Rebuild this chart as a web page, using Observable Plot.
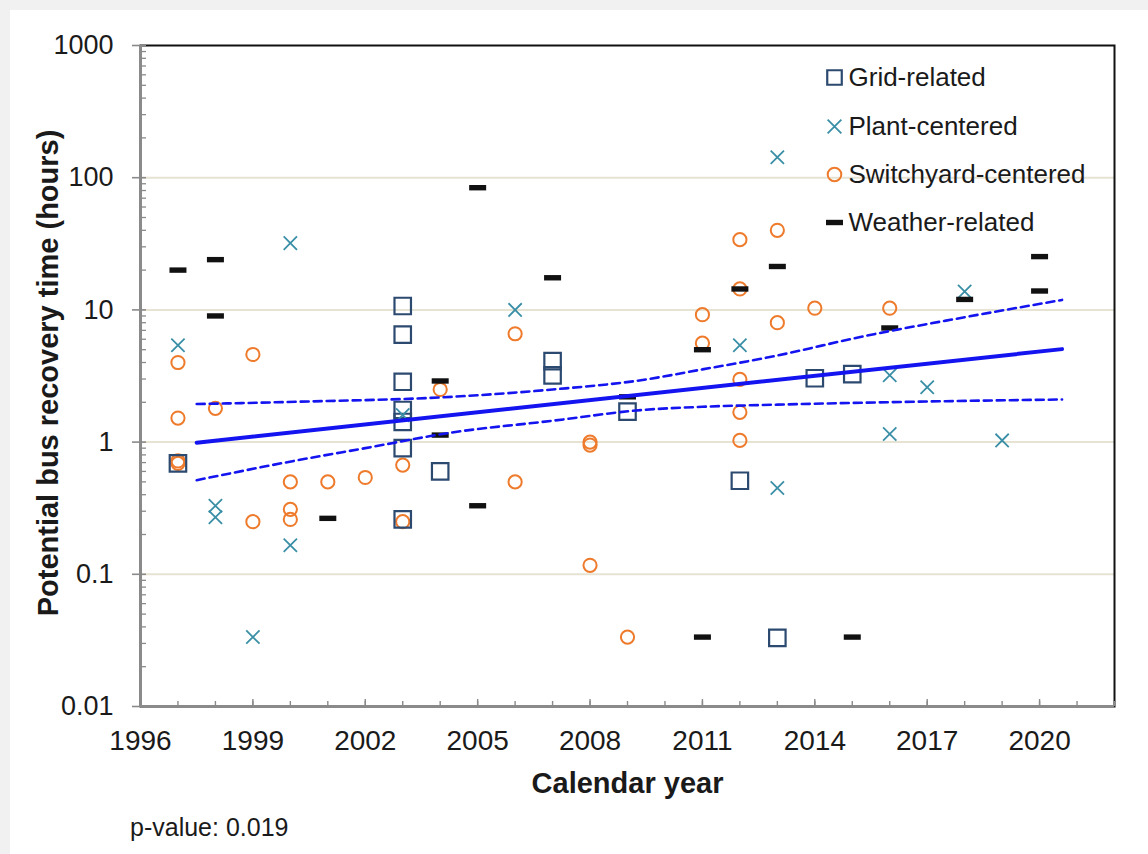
<!DOCTYPE html>
<html>
<head>
<meta charset="utf-8">
<script src="https://cdn.jsdelivr.net/npm/d3@7"></script>
<script src="https://cdn.jsdelivr.net/npm/@observablehq/plot@0.6"></script>
<style>
  html, body { margin: 0; padding: 0; background: #f1f1f1; }
  #panel { position: absolute; left: 10px; top: 10px; width: 1138px; height: 844px; background: #ffffff; }
  #chart { position: absolute; left: 0; top: 0; }
  #caption { position: absolute; left: 120px; top: 803px; font: 25px "Liberation Sans", Arial, sans-serif; color: #1a1a1a; }
</style>
</head>
<body>
<div id="panel"><div id="chart"></div><div id="caption">p-value: 0.019</div></div>
<script>
// ---------------- data ----------------
const gridYear  = [1997, 2003, 2003, 2003, 2003, 2003, 2003, 2003, 2004, 2007, 2007, 2009, 2012, 2013, 2014, 2015];
const gridHours = [0.69, 10.7, 6.5, 2.86, 1.75, 1.42, 0.9, 0.26, 0.6, 4.1, 3.2, 1.7, 0.51, 0.033, 3.04, 3.27];

const plantYear  = [1997, 1998, 1998, 1999, 2000, 2000, 2003, 2006, 2012, 2013, 2013, 2016, 2016, 2017, 2018, 2019];
const plantHours = [5.4, 0.33, 0.27, 0.0335, 32, 0.166, 1.6, 10, 5.4, 143, 0.45, 3.2, 1.15, 2.6, 13.8, 1.03];

const switchYear  = [1997, 1997, 1997, 1997, 1998, 1999, 1999, 2000, 2000, 2000, 2001, 2002, 2003, 2003, 2004, 2006, 2006, 2008, 2008, 2008, 2009, 2011, 2011, 2012, 2012, 2012, 2012, 2012, 2013, 2013, 2014, 2016];
const switchHours = [4.0, 1.52, 0.72, 0.69, 1.8, 4.6, 0.25, 0.5, 0.31, 0.26, 0.5, 0.54, 0.67, 0.25, 2.5, 6.6, 0.5, 1.0, 0.95, 0.117, 0.0335, 9.2, 5.6, 34, 14.4, 2.98, 1.68, 1.03, 40, 8.0, 10.3, 10.3];

const weatherYear  = [1997, 1998, 1998, 2001, 2004, 2004, 2005, 2005, 2007, 2009, 2011, 2011, 2012, 2013, 2015, 2016, 2018, 2020, 2020];
const weatherHours = [20, 24, 9, 0.265, 2.9, 1.13, 84, 0.33, 17.5, 2.2, 5.0, 0.0335, 14.4, 21.3, 0.0335, 7.3, 12, 25.3, 13.9];

// regression line and its confidence band
const fitYear  = [1997.5, 2020.6];
const fitHours = [0.99, 5.05];
const upperYear  = [1997.5, 2000.2, 2004.3, 2007, 2009.4, 2011, 2012.8, 2015.4, 2018, 2020.6];
const upperHours = [1.94, 2.02, 2.2, 2.5, 2.95, 3.55, 4.4, 6.4, 8.8, 11.9];
const lowerYear  = [1997.5, 2000.2, 2002, 2004.3, 2007, 2009.4, 2011, 2013, 2015.4, 2018, 2020.6];
const lowerHours = [0.515, 0.73, 0.9, 1.18, 1.45, 1.75, 1.85, 1.92, 1.99, 2.05, 2.1];

// axes
const xLabelYears = [1996, 1999, 2002, 2005, 2008, 2011, 2014, 2017, 2020];
const yTicks = [0.01, 0.1, 1, 10, 100, 1000];
const yTickLabels = ["0.01", "0.1", "1", "10", "100", "1000"];
const gridLines = [0.1, 1, 10, 100];
const legendLabels = ["Grid-related", "Plant-centered", "Switchyard-centered", "Weather-related"];
const xTitle = "Calendar year";
const yTitle = "Potential bus recovery time (hours)";

// ---------------- build tables ----------------
const zip = (xs, ys) => xs.map((x, i) => ({year: x, hours: ys[i]}));
const grid = zip(gridYear, gridHours);
const plant = zip(plantYear, plantHours);
const sw = zip(switchYear, switchHours);
const weather = zip(weatherYear, weatherHours);
const fit = zip(fitYear, fitHours);
const upper = zip(upperYear, upperHours);
const lower = zip(lowerYear, lowerHours);

const allYears = d3.range(1996, 2023);
const minorTicks = [];
for (let e = -2; e < 3; e++) for (let m = 2; m <= 9; m++) minorTicks.push(m * Math.pow(10, e));

// dash symbol for weather-related events
const dashSymbol = {
  draw(ctx) {
    const w = 8.5, h = 2.7;
    ctx.moveTo(-w, -h); ctx.lineTo(w, -h); ctx.lineTo(w, h); ctx.lineTo(-w, h); ctx.closePath();
  }
};

const C = {grid: "#2c4a70", plant: "#3a8fa7", sw: "#ee7b2c", weather: "#111111", fit: "#1414f0", axis: "#8a8a8a", gridline: "#e6e3d3"};
const FONT = "'Liberation Sans', Arial, Helvetica, sans-serif";

const legendDy = [32, 81, 129, 177];
const legendSymbols = [
  {symbol: "square", r: 8.2, stroke: C.grid, strokeWidth: 2.2, fill: "none"},
  {symbol: "times", r: 6.3, stroke: C.plant, strokeWidth: 1.8, fill: "none"},
  {symbol: "circle", r: 6.8, stroke: C.sw, strokeWidth: 2, fill: "none"},
  {symbol: dashSymbol, r: 5, stroke: "none", fill: C.weather}
];
const legendMarks = legendLabels.flatMap((lab, i) => [
  Plot.dot([lab], {frameAnchor: "top-left", dx: 694, dy: legendDy[i], ...legendSymbols[i]}),
  Plot.text([lab], {frameAnchor: "top-left", dx: 708, dy: legendDy[i], textAnchor: "start", lineAnchor: "middle", fontSize: 26, fill: "#1a1a1a"})
]);

const chart = Plot.plot({
  width: 1138,
  height: 800,
  marginLeft: 130,
  marginRight: 34,
  marginTop: 35,
  marginBottom: 104,
  style: {fontFamily: FONT, fontSize: "26px", background: "#ffffff", color: "#1a1a1a", overflow: "visible"},
  x: {domain: [1996, 2022], axis: null},
  y: {type: "log", domain: [0.01, 1000], axis: null},
  marks: [
    Plot.ruleY(gridLines, {stroke: C.gridline, strokeWidth: 2}),
    Plot.frame({stroke: "#111", strokeWidth: 2}),
    Plot.ruleX([1996], {stroke: C.axis, strokeWidth: 3}),
    Plot.ruleY([0.01], {stroke: C.axis, strokeWidth: 3}),
    // y ticks (major crossing the axis, minor inside)
    Plot.axisY({ticks: yTicks, tickSize: 14, dx: 6, tickFormat: () => "", label: null, stroke: C.axis, strokeWidth: 1.6}),
    Plot.axisY({ticks: minorTicks, tickSize: 6, dx: 6, tickFormat: () => "", label: null, stroke: C.axis, strokeWidth: 1.3}),
    Plot.axisY({ticks: yTicks, tickSize: 0, tickPadding: 27, tickFormat: d => yTickLabels[yTicks.indexOf(d)], label: null, fontSize: 27, fill: "#1a1a1a"}),
    // x ticks pointing inwards
    Plot.axisX({ticks: allYears, tickSize: 5, dy: -5, tickFormat: () => "", label: null, stroke: C.axis, strokeWidth: 1.4}),
    Plot.axisX({ticks: xLabelYears, tickSize: 7, dy: -7, tickFormat: () => "", label: null, stroke: C.axis, strokeWidth: 1.4}),
    Plot.axisX({ticks: xLabelYears, tickSize: 0, tickPadding: 24, tickFormat: d => String(d), label: null, fontSize: 28, fill: "#1a1a1a"}),
    // series
    Plot.dot(sw, {x: "year", y: "hours", symbol: "circle", r: 6.6, stroke: C.sw, strokeWidth: 2, fill: "none"}),
    Plot.dot(grid, {x: "year", y: "hours", symbol: "square", r: 9.3, stroke: C.grid, strokeWidth: 2.2, fill: "none"}),
    Plot.dot(plant, {x: "year", y: "hours", symbol: "times", r: 6.1, stroke: C.plant, strokeWidth: 1.8}),
    Plot.dot(weather, {x: "year", y: "hours", symbol: dashSymbol, r: 5, fill: C.weather, stroke: "none"}),
    // regression and confidence band
    Plot.line(upper, {x: "year", y: "hours", stroke: C.fit, strokeWidth: 2.6, strokeDasharray: "8,5", curve: "monotone-x"}),
    Plot.line(lower, {x: "year", y: "hours", stroke: C.fit, strokeWidth: 2.6, strokeDasharray: "8,5", curve: "monotone-x"}),
    Plot.line(fit, {x: "year", y: "hours", stroke: C.fit, strokeWidth: 4}),
    // axis titles
    Plot.text([xTitle], {frameAnchor: "bottom", dy: 77, lineAnchor: "middle", fontSize: 29, fontWeight: "bold", fill: "#1a1a1a"}),
    Plot.text([yTitle], {frameAnchor: "left", rotate: -90, dx: -92, dy: -3, textAnchor: "middle", lineAnchor: "middle", fontSize: 29, fontWeight: "bold", fill: "#1a1a1a"}),
    ...legendMarks
  ]
});

document.getElementById("chart").appendChild(chart);
</script>
</body>
</html>
